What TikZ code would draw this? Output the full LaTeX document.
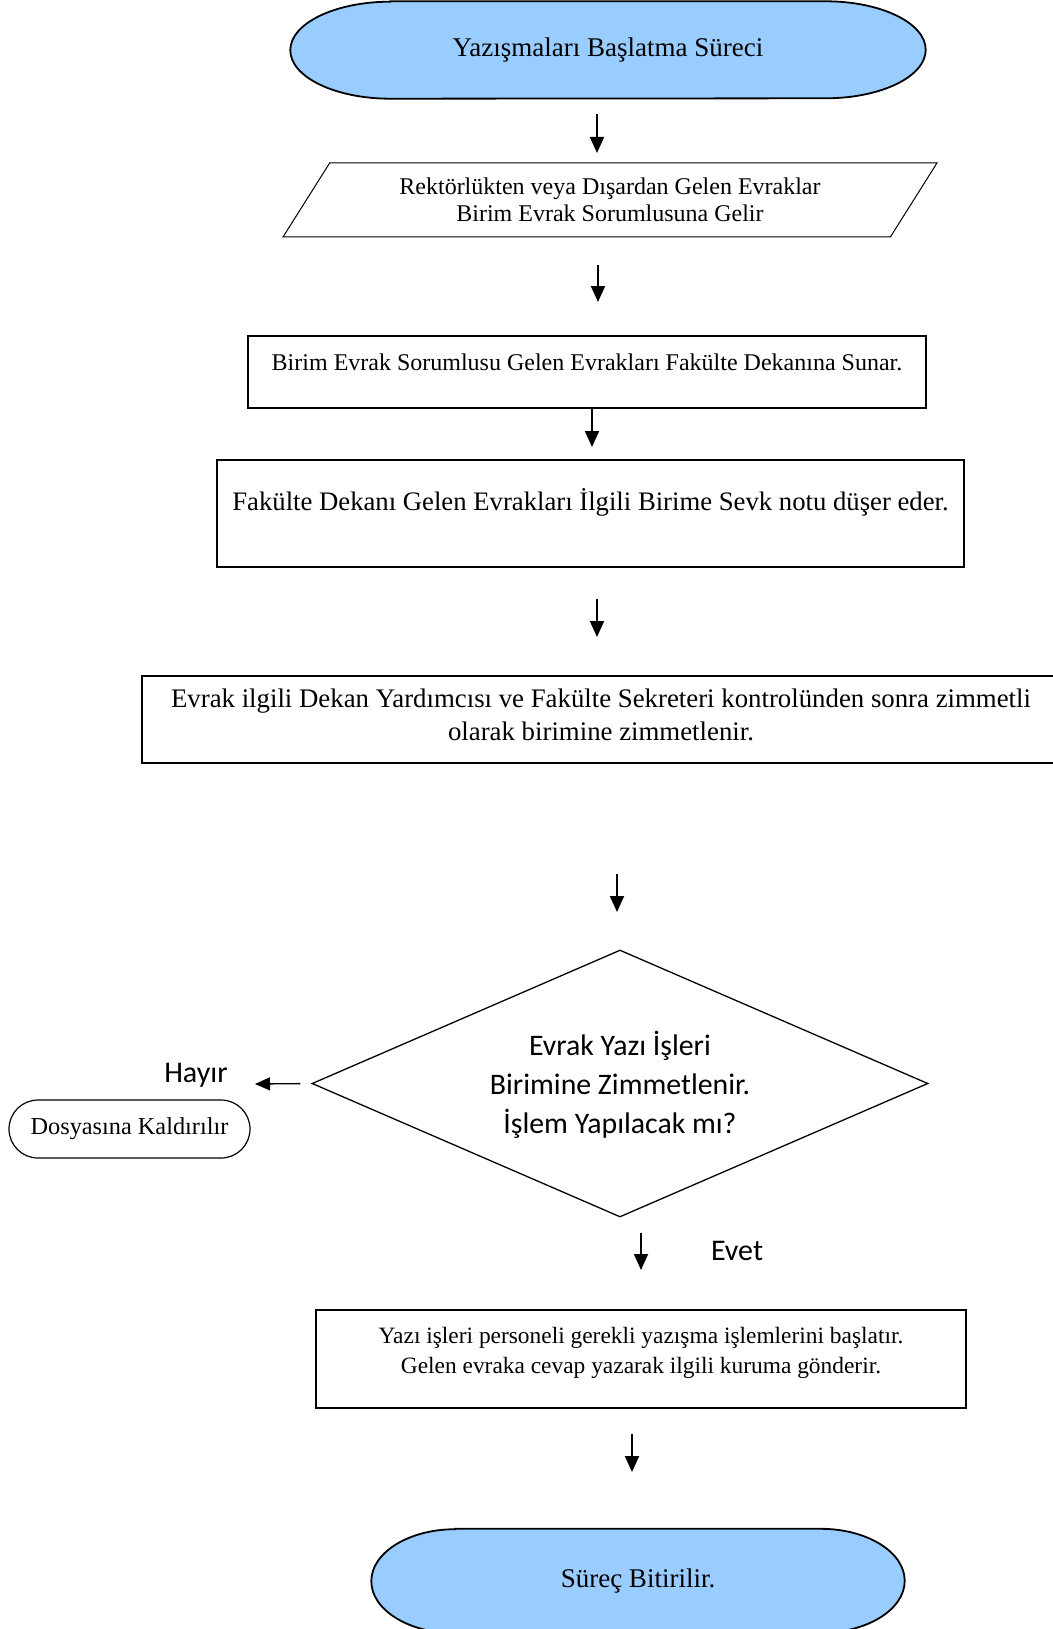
\documentclass[tikz,border=0pt]{standalone}
\usepackage{fontspec}
\setmainfont{Liberation Serif}
\newfontfamily\calibrifont{Carlito}
\usetikzlibrary{positioning}
\usetikzlibrary{shapes.geometric}
\usetikzlibrary{arrows.meta}
\usetikzlibrary{backgrounds}

\definecolor{termblue}{HTML}{99CCFF}

\tikzset{
    box/.style={draw, line width=1.6pt, inner sep=0pt, align=center},
    term/.style={inner sep=0pt, align=center},
    arr/.style={-{Triangle[length=16pt,width=14pt]}, line width=2pt},
    lab/.style={inner sep=0pt, font=\calibrifont\fontsize{30}{36}\selectfont},
}

\begin{document}
\begin{tikzpicture}[x=1pt, y=-1pt]
    \useasboundingbox (0,0) rectangle (1052,1629);

    % start
    \node [term, minimum width=635pt, minimum height=97pt, font=\fontsize{27}{31}\selectfont] (start) at (608,50) {Yazışmaları Başlatma Süreci};

    \node [trapezium, draw, line width=1pt, trapezium left angle=51.4, trapezium right angle=128.6,
        trapezium stretches=true, minimum width=656pt, minimum height=74pt, inner sep=0pt, align=center,
        font=\fontsize{24}{27}\selectfont] (gelen) at (610,200)
        {Rektörlükten veya Dışardan Gelen Evraklar\\Birim Evrak Sorumlusuna Gelir};

    \node [box, minimum width=678pt, text height=34pt, text depth=38pt, font=\fontsize{24}{28}\selectfont] (sunar) at (587,372)
        {Birim Evrak Sorumlusu Gelen Evrakları Fakülte Dekanına Sunar.};

    \node [box, minimum width=747pt, text height=50pt, text depth=57pt, font=\fontsize{26.7}{30}\selectfont] (sevk) at (590.5,513.5)
        {Fakülte Dekanı Gelen Evrakları İlgili Birime Sevk notu düşer eder.};

    \node [box, minimum width=918pt, text height=64pt, text depth=23pt, font=\fontsize{26.8}{33}\selectfont] (zimmet) at (601,719.5)
        {Evrak ilgili Dekan Yardımcısı ve Fakülte Sekreteri kontrolünden sonra zimmetli\\olarak birimine zimmetlenir.};

    % decision
    \node [diamond, draw, line width=1.3pt, aspect=2.3, minimum width=616pt, minimum height=267pt, inner sep=0pt,
        text height=108pt, text depth=8pt, align=center, font=\calibrifont\fontsize{29.8}{39}\selectfont] (karar) at (620,1083.5)
        {Evrak Yazı İşleri\\Birimine Zimmetlenir.\\İşlem Yapılacak mı?};

    \node [lab] (hayir) at (196,1075) {Hayır};
    \node [lab] (evet) at (737,1251) {Evet};

    \node [box, line width=1.2pt, rounded corners=29pt, minimum width=241pt, minimum height=58pt,
        font=\fontsize{24.3}{28}\selectfont] (dosya) at (129.5,1129) {Dosyasına Kaldırılır};

    \node [box, minimum width=650pt, text height=63pt, text depth=35pt, font=\fontsize{23.4}{30}\selectfont] (yazi) at (641,1359)
        {Yazı işleri personeli gerekli yazışma işlemlerini başlatır.\\Gelen evraka cevap yazarak ilgili kuruma gönderir.};

    % end
    \node [term, minimum width=533pt, minimum height=104pt, font=\fontsize{27}{31}\selectfont] (son) at (638,1581) {Süreç Bitirilir.};

    \begin{scope}[on background layer]
        \draw [line width=1.8pt, fill=termblue]
            ([xshift=100pt]start.north west) -- ([xshift=-100pt]start.north east)
            arc [start angle=90, end angle=-90, x radius=100pt, y radius=48.5pt]
            -- ([xshift=100pt]start.south west)
            arc [start angle=270, end angle=90, x radius=100pt, y radius=48.5pt] -- cycle;
        \draw [line width=1.8pt, fill=termblue]
            ([xshift=84pt]son.north west) -- ([xshift=-84pt]son.north east)
            arc [start angle=90, end angle=-90, x radius=84pt, y radius=52pt]
            -- ([xshift=84pt]son.south west)
            arc [start angle=270, end angle=90, x radius=84pt, y radius=52pt] -- cycle;
    \end{scope}

    % arrows
    \coordinate (top1) at (597,114);  \coordinate (bot1) at (597,153);
    \coordinate (top2) at (598,265);  \coordinate (bot2) at (598,302);
    \coordinate (top3) at (592,409);  \coordinate (bot3) at (592,447);
    \coordinate (top4) at (597,599);  \coordinate (bot4) at (597,637);
    \coordinate (top5) at (617,874);  \coordinate (bot5) at (617,912);
    \coordinate (top6) at (641,1233); \coordinate (bot6) at (641,1270);
    \coordinate (top7) at (632,1434); \coordinate (bot7) at (632,1472);
    \foreach \i in {1,...,7}
        \draw [arr] (top\i) -- (bot\i);

    \coordinate (hayirend) at (255,1084);
    \draw [arr, line width=1.3pt, -{Triangle[length=15pt,width=13pt]}, shorten <=11pt] (karar.west) -- (hayirend);

\end{tikzpicture}
\end{document}
